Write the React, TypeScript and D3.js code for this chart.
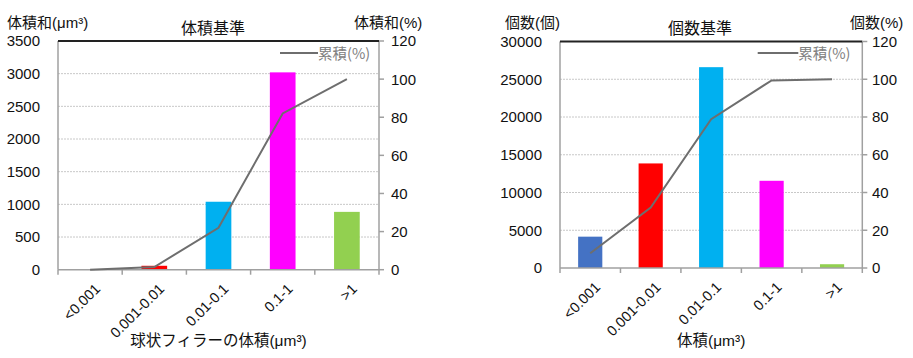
import React from 'react';
import * as d3 from 'd3';

const categories = ['<0.001', '0.001-0.01', '0.01-0.1', '0.1-1', '>1'];
const barColors = ['#4472C4', '#FF0000', '#00B0F0', '#FF00FF', '#92D050'];

const volumeValues = [0, 60, 1040, 3020, 885];
const volumeCumulative = [0, 1.4, 22, 82, 100];
const volumeTicks = [0, 500, 1000, 1500, 2000, 2500, 3000, 3500];

const countValues = [4150, 13850, 26600, 11550, 500];
const countCumulative = [7.8, 32, 78.8, 99.4, 100];
const countTicks = [0, 5000, 10000, 15000, 20000, 25000, 30000];

const pctTicks = [0, 20, 40, 60, 80, 100, 120];

const FONT = '"Liberation Sans", Arial, "Noto Sans CJK JP", sans-serif';
const JFONT = '"Noto Sans CJK JP", "Liberation Sans", sans-serif';

type PanelProps = {
  x0: number; x1: number; yTop: number; yBottom: number;
  values: number[]; cum: number[]; ticks: number[]; yMax: number;
  title: string; titleX: number;
  leftLabel: string; leftLabelX: number;
  rightLabel: string; rightLabelX: number;
  xTitle: string;
  legendX0: number; legendX1: number;
  leftTickX: number; rightTickX: number;
};

function Panel(p: PanelProps) {
  const x = d3.scaleBand<string>().domain(categories).range([p.x0, p.x1]).paddingInner(0.6).paddingOuter(0.3);
  const y = d3.scaleLinear().domain([0, p.yMax]).range([p.yBottom, p.yTop]);
  const y2 = d3.scaleLinear().domain([0, 120]).range([p.yBottom, p.yTop]);
  const step = x.step();
  const cx = (c: string) => (x(c) as number) + x.bandwidth() / 2;
  const line = d3.line<number>().x((_, i) => cx(categories[i])).y((d) => y2(d));
  const midX = (p.x0 + p.x1) / 2;
  return (
    <g>
      {p.ticks.filter((t) => t > 0 && t < p.yMax).map((t) => (
        <line key={'g' + t} x1={p.x0} x2={p.x1} y1={y(t)} y2={y(t)} stroke="#c8c8c8" strokeWidth={1} strokeDasharray="2,1" />
      ))}
      {categories.map((c, i) => (
        <rect key={'b' + c} x={x(c)} y={y(p.values[i])} width={x.bandwidth()} height={p.yBottom - y(p.values[i])} fill={barColors[i]} />
      ))}
      <line x1={p.x0} x2={p.x0} y1={p.yTop} y2={p.yBottom} stroke="#a0a0a0" strokeWidth={1.5} />
      <line x1={p.x1} x2={p.x1} y1={p.yTop} y2={p.yBottom + 5} stroke="#a0a0a0" strokeWidth={1.5} />
      <line x1={p.x0} x2={p.x1} y1={p.yBottom} y2={p.yBottom} stroke="#a0a0a0" strokeWidth={1.5} />
      <line x1={p.x0} x2={p.x1} y1={p.yTop} y2={p.yTop} stroke="#222" strokeWidth={2} />
      {categories.map((c, i) => (
        <line key={'xt' + i} x1={p.x0 + i * step} x2={p.x0 + i * step} y1={p.yBottom} y2={p.yBottom + 5} stroke="#a0a0a0" strokeWidth={1.5} />
      ))}
      {pctTicks.map((t) => (
        <line key={'rt' + t} x1={p.x1} x2={p.x1 + 5} y1={y2(t)} y2={y2(t)} stroke="#a0a0a0" strokeWidth={1.5} />
      ))}
      <path d={line(p.cum) as string} fill="none" stroke="#6e6e6e" strokeWidth={2} />
      {p.ticks.map((t) => (
        <text key={'lt' + t} x={p.leftTickX} y={y(t)} dy="0.36em" textAnchor="end" fontSize={15} fontFamily={FONT} fill="#111">{t}</text>
      ))}
      {pctTicks.map((t) => (
        <text key={'rl' + t} x={p.rightTickX} y={y2(t)} dy="0.36em" textAnchor="start" fontSize={15} fontFamily={FONT} fill="#111">{t}</text>
      ))}
      {categories.map((c) => (
        <text key={'xl' + c} transform={`translate(${cx(c) + 11},${p.yBottom + 20}) rotate(-45)`} textAnchor="end" fontSize={14.5} fontFamily={FONT} fill="#111">{c}</text>
      ))}
      <text x={p.titleX} y={34} textAnchor="middle" fontSize={16} fontFamily={JFONT} fill="#111">{p.title}</text>
      <text x={p.leftLabelX} y={28} fontSize={15} fontFamily={FONT} fill="#111">{p.leftLabel}</text>
      <text x={p.rightLabelX} y={28} fontSize={15} fontFamily={FONT} fill="#111">{p.rightLabel}</text>
      <text x={midX} y={346} textAnchor="middle" fontSize={15.5} fontFamily={FONT} fill="#111">{p.xTitle}</text>
      <line x1={p.legendX0} x2={p.legendX1} y1={53} y2={53} stroke="#6e6e6e" strokeWidth={2} />
      <text x={p.legendX1} y={59} fontSize={14.5} fontFamily={JFONT} fill="#808080">累積(%)</text>
    </g>
  );
}

export default function App() {
  return (
    <svg width={913} height={358} style={{ position: 'absolute', left: 0, top: 0, background: '#fff' }}>
      <rect x={0} y={0} width={913} height={358} fill="#fff" />
      <Panel x0={58} x1={379} yTop={41} yBottom={269.7} values={volumeValues} cum={volumeCumulative}
        ticks={volumeTicks} yMax={3500} title="体積基準" titleX={213}
        leftLabel="体積和(μm³)" leftLabelX={7} rightLabel="体積和(%)" rightLabelX={354}
        xTitle="球状フィラーの体積(μm³)" legendX0={280} legendX1={318} leftTickX={40} rightTickX={391} />
      <Panel x0={560} x1={862.3} yTop={41.5} yBottom={268} values={countValues} cum={countCumulative}
        ticks={countTicks} yMax={30000} title="個数基準" titleX={700}
        leftLabel="個数(個)" leftLabelX={505} rightLabel="個数(%)" rightLabelX={850}
        xTitle="体積(μm³)" legendX0={757.7} legendX1={798.3} leftTickX={542} rightTickX={872} />
    </svg>
  );
}
